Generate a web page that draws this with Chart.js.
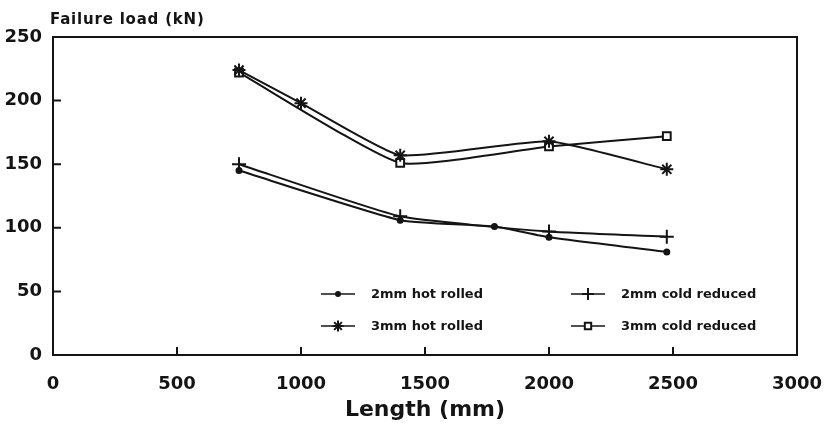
<!DOCTYPE html>
<html>
<head>
<meta charset="utf-8">
<script src="https://cdn.jsdelivr.net/npm/chart.js@4/dist/chart.umd.min.js"></script>
<style>
  html, body { margin: 0; padding: 0; background: #fff; }
  #wrap { width: 830px; height: 425px; }
</style>
</head>
<body>
<div id="wrap"><canvas id="chart" width="830" height="425"></canvas></div>
<script>
// data (length in mm, failure load in kN)
const hot2mmX = [750, 1400, 1780, 2000, 2475];
const hot2mmY = [145, 106, 101, 92.5, 81];
const cold2mmX = [750, 1400, 2000, 2475];
const cold2mmY = [150, 109, 97, 93];
const hot3mmX = [750, 1000, 1400, 2000, 2475];
const hot3mmY = [224, 198, 157, 168, 146];
const cold3mmX = [750, 1400, 2000, 2475];
const cold3mmY = [222, 151, 164, 172];
const xTicks = [0, 500, 1000, 1500, 2000, 2500, 3000];
const yTicks = [0, 50, 100, 150, 200, 250];

const INK = "#141414";
const FONT = "'DejaVu Sans', Verdana, sans-serif";

const pts = (xs, ys) => xs.map((x, i) => ({ x: x, y: ys[i] }));

function series(label, xs, ys, style, radius, fill) {
  return {
    label: label,
    data: pts(xs, ys),
    borderColor: INK,
    borderWidth: 2,
    tension: 0.15,
    pointStyle: style,
    pointRadius: radius,
    pointBorderWidth: 2,
    pointBorderColor: INK,
    pointBackgroundColor: fill,
  };
}

// inward ticks, frame and the two-column legend inside the plot
const decor = {
  id: "decor",
  afterDraw(chart) {
    const ctx = chart.ctx;
    const a = chart.chartArea;
    const xs = chart.scales.x, ys = chart.scales.y;
    ctx.save();
    ctx.strokeStyle = INK;
    ctx.lineWidth = 2;
    ctx.strokeRect(a.left, a.top, a.right - a.left, a.bottom - a.top);
    ctx.beginPath();
    yTicks.forEach((v) => {
      const y = ys.getPixelForValue(v);
      ctx.moveTo(a.left, y);
      ctx.lineTo(a.left + 8, y);
    });
    xTicks.forEach((v) => {
      const x = xs.getPixelForValue(v);
      ctx.moveTo(x, a.bottom);
      ctx.lineTo(x, a.bottom - 8);
    });
    ctx.stroke();

    // y axis caption above plot
    ctx.fillStyle = INK;
    ctx.font = "bold 15px " + FONT;
    ctx.letterSpacing = "0.8px";
    ctx.textAlign = "left";
    ctx.textBaseline = "alphabetic";
    ctx.fillText("Failure load (kN)", 50, 24);
    ctx.letterSpacing = "0px";

    // legend
    const cols = [321, 571];
    const rows = [294, 326];
    [0, 2, 1, 3].forEach((di, k) => {
      const ds = chart.data.datasets[di];
      const cx = cols[Math.floor(k / 2)];
      const cy = rows[k % 2];
      ctx.strokeStyle = INK;
      ctx.lineWidth = 1.5;
      ctx.beginPath();
      ctx.moveTo(cx, cy);
      ctx.lineTo(cx + 34, cy);
      ctx.stroke();
      ctx.lineWidth = 2;
      ctx.fillStyle = ds.pointBackgroundColor;
      Chart.helpers.drawPoint(ctx, {
        pointStyle: ds.pointStyle,
        radius: Math.max(ds.pointRadius - 1, 2),
        rotation: 0,
        borderWidth: 2,
      }, cx + 17, cy);
      ctx.fillStyle = INK;
      ctx.font = "bold 13px " + FONT;
      ctx.textBaseline = "middle";
      ctx.fillText(ds.label, cx + 50, cy + 1);
    });
    ctx.restore();
  },
};

new Chart(document.getElementById("chart"), {
  type: "line",
  data: {
    datasets: [
      series("2mm hot rolled", hot2mmX, hot2mmY, "circle", 2.5, INK),
      series("2mm cold reduced", cold2mmX, cold2mmY, "cross", 7, INK),
      series("3mm hot rolled", hot3mmX, hot3mmY, "star", 6.5, INK),
      series("3mm cold reduced", cold3mmX, cold3mmY, "rect", 5.5, "#fff"),
    ],
  },
  options: {
    responsive: false,
    animation: false,
    layout: { padding: { top: 37, right: 33, left: 0, bottom: 0 } },
    plugins: {
      legend: { display: false },
      tooltip: { enabled: false },
    },
    scales: {
      x: {
        type: "linear",
        min: 0,
        max: 3000,
        afterBuildTicks: (s) => { s.ticks = xTicks.map((v) => ({ value: v })); },
        afterFit: (s) => { s.height = 70; s.paddingLeft = 0; s.paddingRight = 0; },
        grid: { display: false, drawTicks: false },
        border: { display: false },
        ticks: {
          color: INK,
          padding: 19,
          maxRotation: 0,
          callback: (v) => String(v),
          font: { family: FONT, size: 18, weight: "bold" },
        },
        title: {
          display: true,
          text: "Length (mm)",
          color: INK,
          padding: { top: 0, bottom: 2 },
          font: { family: FONT, size: 22, weight: "bold" },
        },
      },
      y: {
        min: 0,
        max: 250,
        afterBuildTicks: (s) => { s.ticks = yTicks.map((v) => ({ value: v })); },
        afterFit: (s) => { s.width = 53; s.paddingTop = 0; s.paddingBottom = 0; },
        grid: { display: false, drawTicks: false },
        border: { display: false },
        ticks: {
          color: INK,
          padding: 11,
          callback: (v) => String(v),
          font: { family: FONT, size: 18, weight: "bold" },
        },
      },
    },
  },
  plugins: [decor],
});
</script>
</body>
</html>
